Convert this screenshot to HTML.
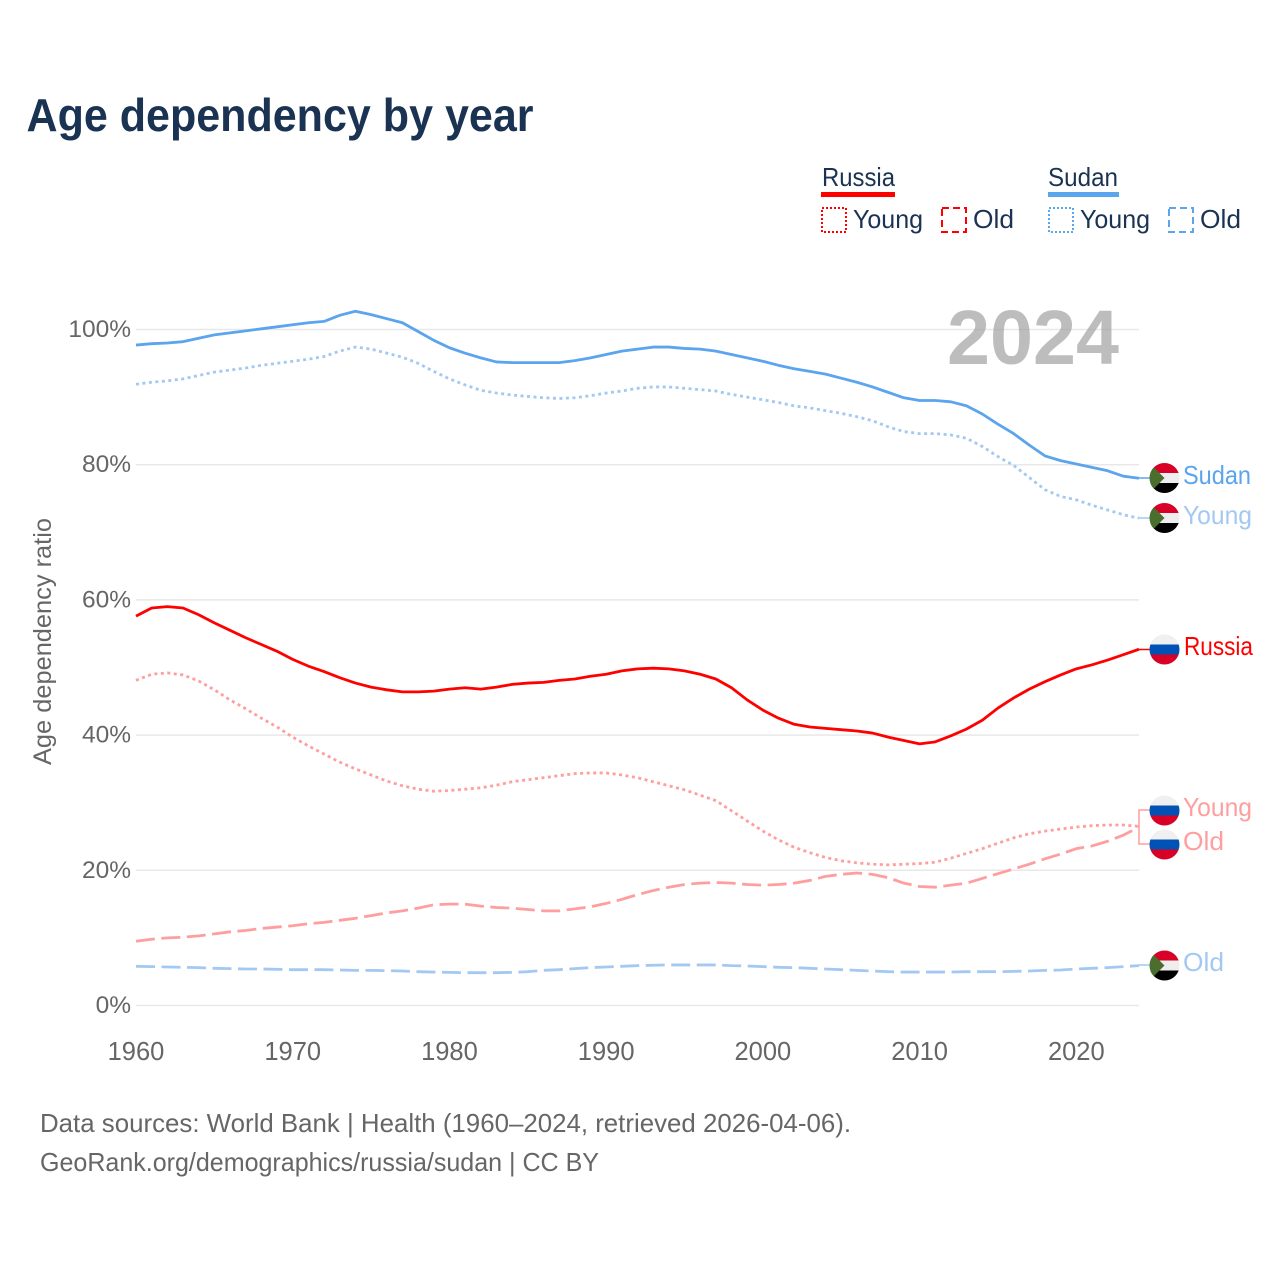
<!DOCTYPE html>
<html lang="en">
<head>
<meta charset="utf-8">
<title>Age dependency by year</title>
<style>
html,body{margin:0;padding:0;background:#fff}
svg{display:block}
text{font-family:"Liberation Sans",sans-serif}
</style>
</head>
<body>
<svg id="chart" xmlns="http://www.w3.org/2000/svg" width="1280" height="1280" viewBox="0 0 1280 1280">
  <defs>
    <clipPath id="flag-clip"><circle cx="0" cy="0" r="15"/></clipPath>
    <g id="flag-sudan" clip-path="url(#flag-clip)">
      <rect x="-15" y="-15" width="30" height="30" fill="#eeeeee"/>
      <rect x="-15" y="-15" width="30" height="10" fill="#d80027"/>
      <rect x="-15" y="5" width="30" height="10" fill="#000000"/>
      <polygon points="-15,-15 0,0 -15,15" fill="#496e2d"/>
    </g>
    <g id="flag-russia" clip-path="url(#flag-clip)">
      <rect x="-15" y="-15" width="30" height="30" fill="#f0f0f0"/>
      <rect x="-15" y="-5" width="30" height="10" fill="#0052b4"/>
      <rect x="-15" y="5" width="30" height="10" fill="#d80027"/>
    </g>
  </defs>

  <text x="26.5" y="131" font-size="46" font-weight="700" fill="#1a3353" textLength="507" lengthAdjust="spacingAndGlyphs">Age dependency by year</text>

  <g font-size="26" fill="#1a3353">
    <text x="822" y="186" textLength="73" lengthAdjust="spacingAndGlyphs">Russia</text>
    <rect x="821" y="192" width="74" height="5" fill="#ff0000"/>
    <rect x="822" y="208" width="24" height="24" fill="none" stroke="#ff0000" stroke-width="2" stroke-dasharray="2 2"/>
    <text x="853" y="228" textLength="70" lengthAdjust="spacingAndGlyphs">Young</text>
    <rect x="942" y="208" width="24" height="24" fill="none" stroke="#ff0000" stroke-width="2" stroke-dasharray="7 4"/>
    <text x="973" y="228" textLength="41" lengthAdjust="spacingAndGlyphs">Old</text>
    <text x="1048" y="186" textLength="70" lengthAdjust="spacingAndGlyphs">Sudan</text>
    <rect x="1048" y="192" width="71" height="5" fill="#5ba4ee"/>
    <rect x="1049" y="208" width="24" height="24" fill="none" stroke="#5ba4ee" stroke-width="2" stroke-dasharray="2 2"/>
    <text x="1080" y="228" textLength="70" lengthAdjust="spacingAndGlyphs">Young</text>
    <rect x="1169" y="208" width="24" height="24" fill="none" stroke="#5ba4ee" stroke-width="2" stroke-dasharray="7 4"/>
    <text x="1200" y="228" textLength="41" lengthAdjust="spacingAndGlyphs">Old</text>
  </g>

  <g id="grid"></g>
  <text x="947" y="364" font-size="77" font-weight="700" fill="#999999" fill-opacity="0.65" textLength="172" lengthAdjust="spacingAndGlyphs">2024</text>
  <g id="y-ticks"></g>
  <g id="x-ticks"></g>
  <text transform="translate(51 765) rotate(-90)" x="0" y="0" font-size="25" fill="#666666" textLength="247" lengthAdjust="spacingAndGlyphs">Age dependency ratio</text>

  <g id="series"></g>

  <g fill="none" stroke-width="1.5">
    <path d="M1139 478H1150" stroke="#5ba4ee"/>
    <path d="M1139 518H1150" stroke="#a3c9f3"/>
    <path d="M1139 649.5H1150" stroke="#ff0000"/>
    <path d="M1150 810H1139V844H1150" stroke="#ff9e9e"/>
    <path d="M1139 965H1150" stroke="#a3c9f3"/>
  </g>

  <g>
    <use href="#flag-sudan" x="1164.5" y="478"/>
    <use href="#flag-sudan" x="1164.5" y="518"/>
    <use href="#flag-russia" x="1164.5" y="649.5"/>
    <use href="#flag-russia" x="1164.5" y="810.5"/>
    <use href="#flag-russia" x="1164.5" y="844.5"/>
    <use href="#flag-sudan" x="1164.5" y="965.5"/>
  </g>

  <g font-size="26">
    <text x="1183" y="484" fill="#5ba4ee" textLength="68" lengthAdjust="spacingAndGlyphs">Sudan</text>
    <text x="1183" y="524" fill="#a3c9f3" textLength="69" lengthAdjust="spacingAndGlyphs">Young</text>
    <text x="1184" y="655" fill="#ff0000" textLength="69" lengthAdjust="spacingAndGlyphs">Russia</text>
    <text x="1183" y="816" fill="#ff9e9e" textLength="69" lengthAdjust="spacingAndGlyphs">Young</text>
    <text x="1183" y="850" fill="#ff9e9e" textLength="41" lengthAdjust="spacingAndGlyphs">Old</text>
    <text x="1183" y="971" fill="#a3c9f3" textLength="41" lengthAdjust="spacingAndGlyphs">Old</text>
  </g>

  <g font-size="26" fill="#666666">
    <text x="40" y="1132" textLength="811" lengthAdjust="spacingAndGlyphs">Data sources: World Bank | Health (1960–2024, retrieved 2026-04-06).</text>
    <text x="40" y="1171" textLength="559" lengthAdjust="spacingAndGlyphs">GeoRank.org/demographics/russia/sudan | CC BY</text>
  </g>
</svg>
<script>
const startYear = 1960;
const endYear = 2024;
const xTickYears = [1960, 1970, 1980, 1990, 2000, 2010, 2020];
const yTickValues = [0, 20, 40, 60, 80, 100];

const sudanTotal = [97.7,97.9,98.0,98.2,98.7,99.2,99.5,99.8,100.1,100.4,100.7,101.0,101.2,102.1,102.7,102.2,101.6,101.0,99.7,98.4,97.3,96.5,95.8,95.2,95.1,95.1,95.1,95.1,95.4,95.8,96.3,96.8,97.1,97.4,97.4,97.2,97.1,96.8,96.3,95.8,95.3,94.7,94.2,93.8,93.4,92.8,92.2,91.5,90.7,89.9,89.5,89.5,89.3,88.7,87.5,86.0,84.6,82.9,81.3,80.6,80.1,79.6,79.1,78.3,78.0];
const sudanYoung = [91.9,92.2,92.4,92.7,93.2,93.7,94.0,94.3,94.7,95.0,95.3,95.6,96.0,96.8,97.4,97.1,96.5,95.9,95.0,93.8,92.7,91.8,91.0,90.6,90.3,90.1,89.9,89.8,89.9,90.2,90.6,90.9,91.3,91.5,91.5,91.3,91.1,90.9,90.4,90.0,89.6,89.2,88.7,88.4,88.0,87.6,87.1,86.5,85.6,84.9,84.6,84.6,84.4,83.9,82.7,81.2,79.9,78.1,76.3,75.3,74.8,74.0,73.3,72.6,72.1];
const sudanOld = [5.8,5.75,5.7,5.65,5.6,5.5,5.45,5.4,5.4,5.35,5.3,5.3,5.3,5.25,5.2,5.2,5.15,5.1,5.0,4.95,4.9,4.85,4.85,4.85,4.9,5.0,5.2,5.3,5.45,5.6,5.7,5.8,5.9,5.95,6.0,6.0,6.0,6.0,5.9,5.85,5.75,5.65,5.6,5.5,5.4,5.3,5.2,5.1,5.0,4.95,4.95,4.95,4.95,5.0,5.0,5.0,5.05,5.1,5.2,5.25,5.4,5.5,5.6,5.75,5.9];
const russiaTotal = [57.6,58.8,59.0,58.8,57.8,56.6,55.5,54.4,53.4,52.4,51.2,50.2,49.4,48.5,47.7,47.1,46.7,46.4,46.4,46.5,46.8,47.0,46.8,47.1,47.5,47.7,47.8,48.1,48.3,48.7,49.0,49.5,49.8,49.9,49.8,49.5,49.0,48.3,47.0,45.2,43.7,42.5,41.6,41.2,41.0,40.8,40.6,40.3,39.7,39.2,38.7,39.0,39.9,40.9,42.2,44.0,45.5,46.8,47.9,48.9,49.8,50.4,51.1,51.9,52.7];
const russiaYoung = [48.1,49.0,49.2,48.9,48.0,46.7,45.2,43.9,42.5,41.2,39.7,38.4,37.2,36.0,35.0,34.1,33.2,32.5,32.0,31.7,31.8,32.0,32.2,32.6,33.1,33.4,33.7,34.0,34.3,34.4,34.4,34.1,33.7,33.1,32.5,31.9,31.1,30.3,28.8,27.3,25.8,24.5,23.4,22.6,21.9,21.4,21.1,20.9,20.8,20.9,21.0,21.2,21.8,22.5,23.2,24.0,24.8,25.4,25.8,26.1,26.4,26.6,26.7,26.7,26.5];
const russiaOld = [9.5,9.8,10.0,10.1,10.3,10.6,10.9,11.1,11.4,11.6,11.8,12.1,12.3,12.6,12.9,13.3,13.7,14.0,14.4,14.9,15.0,15.0,14.7,14.5,14.4,14.2,14.0,14.0,14.3,14.6,15.1,15.7,16.4,17.0,17.5,17.9,18.1,18.2,18.1,17.9,17.8,17.9,18.1,18.5,19.1,19.4,19.6,19.4,18.9,18.1,17.6,17.5,17.8,18.1,18.8,19.5,20.2,20.9,21.7,22.4,23.2,23.6,24.3,25.2,26.4];

const NS = 'http://www.w3.org/2000/svg';
const plotLeft = 136, plotRight = 1139, plotZero = 1005.5, plotHundred = 329.5;

function xScale(year) {
  return plotLeft + (year - startYear) * (plotRight - plotLeft) / (endYear - startYear);
}
function yScale(value) {
  return plotZero + value * (plotHundred - plotZero) / 100;
}
function make(tag, parentId, attrs, content) {
  const el = document.createElementNS(NS, tag);
  for (const k in attrs) el.setAttribute(k, attrs[k]);
  if (content !== undefined) el.textContent = content;
  document.getElementById(parentId).appendChild(el);
  return el;
}

yTickValues.forEach(function (v) {
  const line = make('line', 'grid', {x1: plotLeft, x2: plotRight, y1: yScale(v), y2: yScale(v), stroke: '#e8e8e8', 'stroke-width': 1.5});
  
  
  const label = make('text', 'y-ticks', {x: 131, y: yScale(v) + 7.5, 'text-anchor': 'end', 'font-size': 24.5, fill: '#666666'}, v + '%');
  
  
});

xTickYears.forEach(function (year) {
  const label = make('text', 'x-ticks', {x: xScale(year), y: 1060, 'text-anchor': 'middle', 'font-size': 25.5, fill: '#666666'}, String(year));
  
  
});

function drawLine(parentName, values, color, dash) {
  const pts = values.map(function (v, i) {
    return xScale(startYear + i).toFixed(2) + ',' + yScale(v).toFixed(2);
  }).join(' ');
  const attrs = {points: pts, fill: 'none', stroke: color, 'stroke-width': 2.8, 'stroke-linejoin': 'round'};
  if (dash) attrs['stroke-dasharray'] = dash;
  const el = make('polyline', 'series', attrs);
  
  
}

drawLine('line-sudan-old', sudanOld, '#a3c9f3', '19 6.5');
drawLine('line-russia-old', russiaOld, '#ff9e9e', '19 6.5');
drawLine('line-russia-young', russiaYoung, '#ff9e9e', '3 3.5');
drawLine('line-sudan-young', sudanYoung, '#a3c9f3', '3 3.5');
drawLine('line-russia-total', russiaTotal, '#ff0000', null);
drawLine('line-sudan-total', sudanTotal, '#5ba4ee', null);
</script>
</body>
</html>
